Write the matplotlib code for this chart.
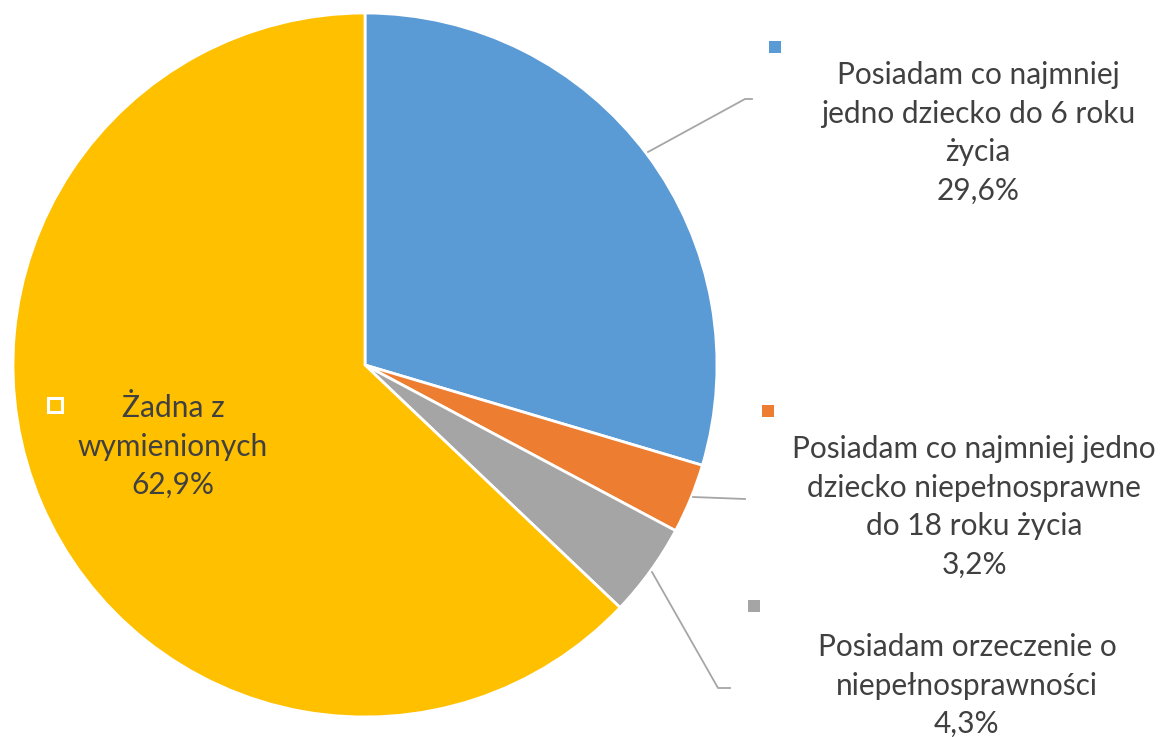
import matplotlib.pyplot as plt
from matplotlib.patches import Rectangle

plt.rcParams['font.family'] = ['Lato', 'DejaVu Sans']

labels = ["Posiadam co najmniej\njedno dziecko do 6 roku\nżycia",
          "Posiadam co najmniej jedno\ndziecko niepełnosprawne\ndo 18 roku życia",
          "Posiadam orzeczenie o\nniepełnosprawności",
          "Żadna z\nwymienionych"]
values = [29.6, 3.2, 4.3, 62.9]
colors = ["#5B9BD5", "#ED7D31", "#A5A5A5", "#FFC000"]

W, H = 1161, 737
fig = plt.figure(figsize=(W / 100, H / 100), dpi=100)
ax = fig.add_axes([0, 0, 1, 1])

def Y(y):
    # pixel row (from top) -> data y
    return H - y

cx, cy, r = 365, Y(365), 352
ax.pie(values, colors=colors, startangle=90, counterclock=False,
       center=(cx, cy), radius=r,
       wedgeprops=dict(edgecolor="white", linewidth=2))
ax.set_xlim(0, W)
ax.set_ylim(0, H)
ax.set_aspect('equal')
ax.axis('off')

txt = "#404040"
line_c = "#A6A6A6"

# leader lines
ax.plot([648, 745, 752], [Y(152), Y(99), Y(99)], color=line_c, lw=1.3)
ax.plot([693, 745], [Y(497), Y(499)], color=line_c, lw=1.3)
ax.plot([652, 718, 730], [Y(572), Y(688), Y(688)], color=line_c, lw=1.3)

# label texts and key squares
label_pos = [(978, 75), (974, 449), (967, 647), (173, 408)]
key_pos = [(775, 47), (768, 411), (754, 606), (55, 405)]
spacing = 38.5
for i, (lab, v) in enumerate(zip(labels, values)):
    lines = lab.split("\n") + [f"{v:.1f}%".replace(".", ",")]
    x0, y0 = label_pos[i]
    for j, ln in enumerate(lines):
        ax.text(x0, Y(y0 + j * spacing), ln, ha="center", va="center",
                fontsize=21.5, color=txt)
    kx, ky = key_pos[i]
    if i == 3:
        ax.add_patch(Rectangle((kx - 7, Y(ky) - 7), 14, 14, facecolor="none",
                               edgecolor="white", lw=2.2))
    else:
        ax.add_patch(Rectangle((kx - 6, Y(ky) - 6), 12, 12, facecolor=colors[i],
                               edgecolor="none"))

fig.savefig("out.png", dpi=100)
